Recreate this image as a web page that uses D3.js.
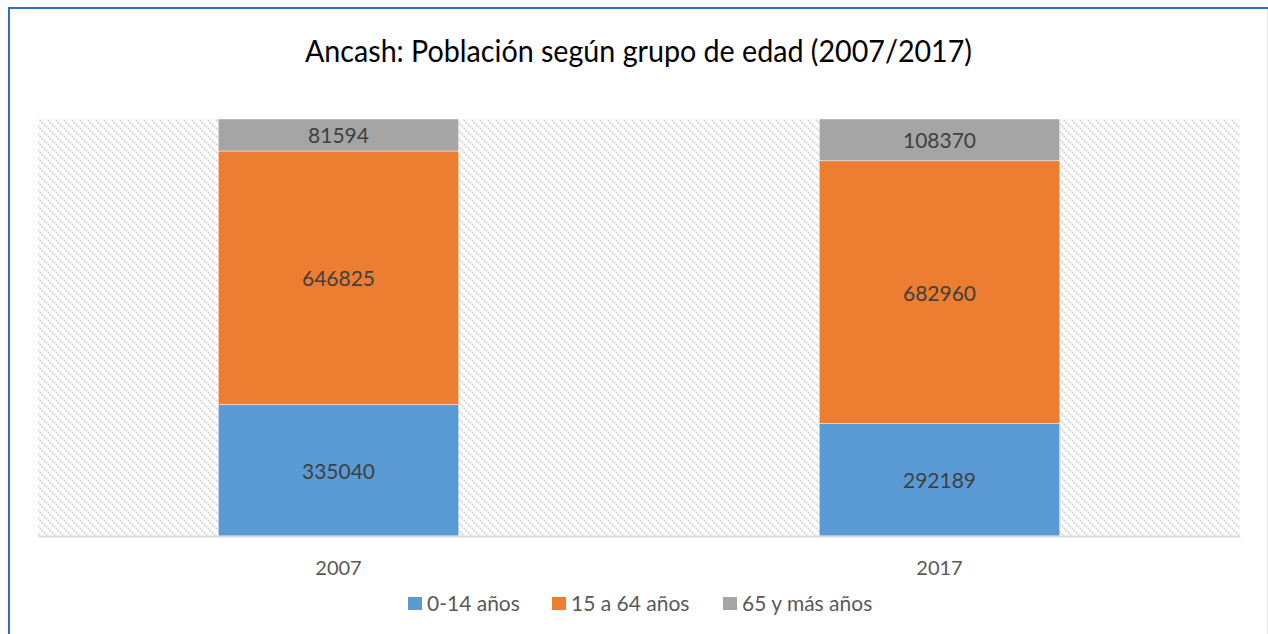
<!DOCTYPE html>
<html>
<head>
<meta charset="utf-8">
<script src="https://cdn.jsdelivr.net/npm/d3@7"></script>
<style>
  body { margin: 0; background: #fff; }
  svg { display: block; font-family: Lato, "Open Sans", sans-serif; }
</style>
</head>
<body>
<svg width="1268" height="634"></svg>
<script>
let width = 1268, height = 634;

// data
let years = ["2007", "2017"];
let groups = ["0-14 años", "15 a 64 años", "65 y más años"];
let young = [335040, 292189];
let adults = [646825, 682960];
let old = [81594, 108370];
let colors = ["#5B9BD5", "#ED7D31", "#A5A5A5"];

let rows = years.map((y, i) => ({ year: y, "0-14 años": young[i], "15 a 64 años": adults[i], "65 y más años": old[i] }));

let svg = d3.select("svg");

let plot = { left: 38, right: 1240, top: 119, bottom: 536 };

// hatched background pattern
let defs = svg.append("defs");
let pat = defs.append("pattern")
    .attr("id", "hatch")
    .attr("patternUnits", "userSpaceOnUse")
    .attr("width", 8)
    .attr("height", 8);
pat.append("path")
    .attr("d", "M0,0L8,8M-2,6L2,10M6,-2L10,2")
    .attr("stroke", "#cccccc")
    .attr("stroke-width", 2.2)
    .attr("stroke-dasharray", "1.5,1.3");

// frame
svg.append("line")
    .attr("x1", 8).attr("x2", 1268).attr("y1", 8).attr("y2", 8)
    .attr("stroke", "#2a72c0").attr("stroke-width", 2);
svg.append("line")
    .attr("x1", 9).attr("x2", 9).attr("y1", 8).attr("y2", height)
    .attr("stroke", "#2a72c0").attr("stroke-width", 2);
svg.append("line")
    .attr("x1", 1267.5).attr("x2", 1267.5).attr("y1", 9).attr("y2", height)
    .attr("stroke", "#e6e6e6").attr("stroke-width", 1);

// title (condensed a little to match the original narrow face)
svg.append("text")
    .attr("x", 638.5)
    .attr("y", 62)
    .attr("text-anchor", "middle")
    .attr("fill", "#000")
    .attr("textLength", 667)
    .attr("lengthAdjust", "spacingAndGlyphs")
    .style("font-size", "30px")
    .text("Ancash: Población según grupo de edad (2007/2017)");

// plot background
svg.append("rect")
    .attr("x", plot.left)
    .attr("y", plot.top)
    .attr("width", plot.right - plot.left)
    .attr("height", plot.bottom - plot.top)
    .attr("fill", "url(#hatch)");

let x = d3.scaleBand()
    .domain(years)
    .range([plot.left, plot.right])
    .paddingInner(0.6)
    .paddingOuter(0.3);

let y = d3.scaleLinear()
    .domain([0, 1])
    .range([plot.bottom, plot.top]);

let stack = d3.stack()
    .keys(groups)
    .offset(d3.stackOffsetExpand);

let series = stack(rows);

let layer = svg.append("g")
    .selectAll("g")
    .data(series)
    .enter()
    .append("g")
    .attr("fill", (d, i) => colors[i]);

layer.selectAll("rect")
    .data(d => d)
    .enter()
    .append("rect")
    .attr("x", d => x(d.data.year))
    .attr("width", x.bandwidth())
    .attr("y", d => y(d[1]))
    .attr("height", d => y(d[0]) - y(d[1]))
    .attr("stroke", "rgba(255,255,255,0.55)")
    .attr("stroke-width", 0.8);

// data labels
layer.selectAll("text")
    .data(d => d.map(v => ({ v: v, key: d.key })))
    .enter()
    .append("text")
    .attr("x", d => x(d.v.data.year) + x.bandwidth() / 2)
    .attr("y", d => (y(d.v[0]) + y(d.v[1])) / 2)
    .attr("dy", "0.4em")
    .attr("text-anchor", "middle")
    .attr("fill", "#404040")
    .style("font-size", "21px")
    .text(d => d.v.data[d.key]);

// x axis
let axis = svg.append("g")
    .attr("transform", "translate(0," + plot.bottom + ")")
    .call(d3.axisBottom(x).tickSize(0));
axis.select(".domain")
    .attr("stroke", "#d9d9d9")
    .attr("stroke-width", 2);
axis.selectAll("text")
    .attr("y", 39)
    .attr("dy", 0)
    .attr("fill", "#595959")
    .style("font-family", "Lato, sans-serif")
    .style("font-size", "20px");

// legend
let legendX = [408, 552, 723];
let legend = svg.append("g")
    .selectAll("g")
    .data(groups)
    .enter()
    .append("g")
    .attr("transform", (d, i) => "translate(" + legendX[i] + ",597)");
legend.append("rect")
    .attr("width", 14)
    .attr("height", 13)
    .attr("fill", (d, i) => colors[i]);
legend.append("text")
    .attr("x", 19)
    .attr("y", 13.5)
    .attr("fill", "#595959")
    .style("font-size", "21px")
    .text(d => d);
</script>
</body>
</html>
